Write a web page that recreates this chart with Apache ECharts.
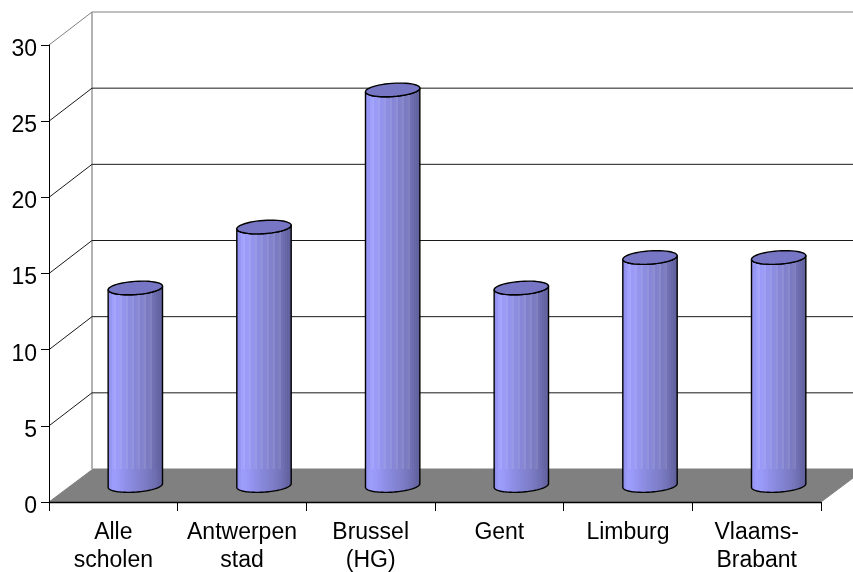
<!DOCTYPE html>
<html><head><meta charset="utf-8">
<style>html,body{margin:0;padding:0;background:#fff}#c{width:853px;height:572px}</style>
<script src="https://cdn.jsdelivr.net/npm/echarts@6/dist/echarts.min.js"></script>
</head><body><div id="c"></div>
<script>
const categories = ['Alle\nscholen','Antwerpen\nstad','Brussel\n(HG)','Gent','Limburg','Vlaams-\nBrabant'];
const values = [13,17,26,13,15,15];
const yTicks = [0,5,10,15,20,25,30];

const DX = 44, DY = -33, BAR_W = 54.5, RY = 6.6, TILT = -0.07;
const chart = echarts.init(document.getElementById('c'), null, {renderer:'canvas'});

function ellipsePts(cx, cy, rx, ry, from, to) {
  const pts = [], n = 48, c = Math.cos(TILT), s = Math.sin(TILT);
  for (let i = 0; i <= n; i++) {
    const t = from + (to - from) * i / n;
    const x = rx * Math.cos(t), y = ry * Math.sin(t);
    pts.push([cx + x * c - y * s, cy + x * s + y * c]);
  }
  return pts;
}
const shades = ['#9090ec','#9696f4','#9c9cfc','#9c9cfc','#9a9af8','#9898f6','#9696f2','#9494ee','#9090ea','#8e8ee6','#8c8ce2','#8a8ade','#8888da','#8686d8','#8484d4','#8282d0','#8080cc','#7e7eca','#7c7cc6','#7a7ac2','#7777be','#7474ba','#7070b4','#6c6cae','#6868a8','#6464a2','#60609c'];
function sideFill(striped) {
  const stops = [], n = shades.length;
  shades.forEach((col, i) => {
    const a = i / n, b = (i + 1) / n;
    const use = (striped && i > 1 && i < 23 && (i % 3 !== 1))
      ? echarts.color.lift(col, i % 3 === 0 ? 0.1 : 0.04) : col;
    stops.push({offset:a, color:use});
    stops.push({offset:b, color:use});
  });
  return {type:'linear', x:0, y:0, x2:1, y2:0, colorStops:stops};
}

function renderWalls(params, api) {
  const v = api.value(0);
  const p = api.coord([0, v]);
  const left = params.coordSys.x, right = left + params.coordSys.width;
  const y = p[1], children = [];
  const isTop = v === 30, isBase = v === 0;
  if (isBase) {
    const top = api.coord([0, 30])[1];
    children.push({type:'polygon', shape:{points:[[left,y],[left+DX,y+DY],[right+DX,y+DY],[right,y]]},
      style:{fill:'#808080', stroke:'#808080', lineWidth:1}});
    children.push({type:'line', shape:{x1:left+DX-1, y1:top+DY, x2:left+DX-1, y2:y+DY}, style:{stroke:'#808080', lineWidth:1.2}});
    return {type:'group', children};
  }
  children.push({type:'line', shape:{x1:left, y1:y, x2:left+DX-1, y2:y+DY}, style:{stroke:isTop?'#808080':'#1a1a1a', lineWidth:1}});
  children.push({type:'line', shape:{x1:left+DX-1, y1:y+DY, x2:right+DX, y2:y+DY}, style:{stroke:isTop?'#808080':'#1a1a1a', lineWidth:1}});
  return {type:'group', children};
}

function renderBars(params, api) {
  const idx = api.value(0), v = api.value(1);
  const base = api.coord([idx, 0]), top = api.coord([idx, v]);
  const cx = base[0] + DX / 2, yb = base[1] + DY / 2, yt = top[1] + DY / 2 + 0.5;
  const rx = BAR_W / 2;
  const floorBack = base[1] + DY;
  const front = ellipsePts(cx, yb, rx, RY, 0, Math.PI);
  const topEdge = ellipsePts(cx, yt, rx, RY, Math.PI, 0);
  const side = topEdge.concat(front);
  const lower = [[cx-rx, floorBack],[cx+rx, floorBack]].concat(front);
  return {type:'group', children:[
    {type:'polygon', shape:{points:side}, style:{fill:sideFill(true), stroke:null}},
    {type:'polygon', shape:{points:lower}, style:{fill:sideFill(false), stroke:null}},
    {type:'polygon', shape:{points:side}, style:{fill:'none', stroke:'#000', lineWidth:1.4, lineJoin:'round'}},
    {type:'polygon', shape:{points:ellipsePts(cx, yt, rx, RY, 0, Math.PI*2)}, style:{fill:'#7676c4', stroke:'#000', lineWidth:1.4}}
  ]};
}

chart.setOption({
  animation:false,
  backgroundColor:'#fff',
  textStyle:{fontFamily:'"Liberation Sans", Arial, sans-serif'},
  grid:{left:49, right:32, top:45, bottom:70, containLabel:false, outerBoundsMode:'none'},
  xAxis:{type:'category', data:categories, z:10,
    axisLine:{show:true, onZero:false, lineStyle:{color:'#000', width:1.3}},
    axisTick:{show:true, alignWithLabel:false, length:9, lineStyle:{color:'#000', width:1}},
    axisLabel:{color:'#000', fontSize:23, lineHeight:28, margin:17, interval:0, fontFamily:'"Liberation Sans", Arial, sans-serif'},
    splitLine:{show:false}},
  yAxis:{type:'value', min:0, max:30, interval:5, z:10,
    axisLine:{show:true, lineStyle:{color:'#000', width:1}},
    axisTick:{show:true, length:8, lineStyle:{color:'#000', width:1}},
    axisLabel:{color:'#000', fontSize:23, margin:12, verticalAlign:'top', lineHeight:9, fontFamily:'"Liberation Sans", Arial, sans-serif'},
    splitLine:{show:false}},
  series:[
    {type:'custom', silent:true, z:1, clip:false, data:yTicks.map(v=>[v]), encode:{x:-1,y:0}, renderItem:renderWalls},
    {type:'custom', silent:true, z:3, clip:false, data:values.map((v,i)=>[i,v]), encode:{x:0,y:1}, renderItem:renderBars}
  ]
});
</script></body></html>
